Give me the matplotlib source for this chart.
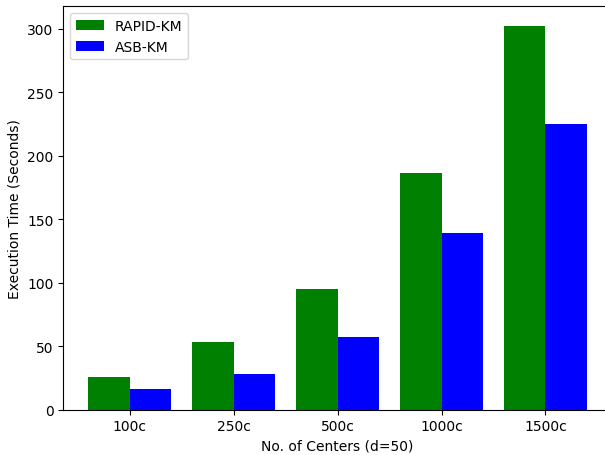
import matplotlib
matplotlib.use("Agg")
import matplotlib.pyplot as plt
import numpy as np

centers = ["100c", "250c", "500c", "1000c", "1500c"]
rapid_km = [26.0, 53.7, 94.7, 186.3, 302.6]
asb_km = [16.6, 28.4, 57.6, 138.9, 225.3]

fig = plt.figure(figsize=(6.05, 4.56), dpi=100)
ax = fig.add_axes([63.3 / 605, 1 - 410.7 / 456, (612 - 63.3) / 605, (410.7 - 7.3) / 456])

x = np.arange(len(centers))
width = 0.4
ax.bar(x - width / 2, rapid_km, width, color="green", label="RAPID-KM")
ax.bar(x + width / 2, asb_km, width, color="blue", label="ASB-KM")

ax.set_xticks(x)
ax.set_xticklabels(centers)
ax.set_xlabel("No. of Centers (d=50)")
ax.set_ylabel("Execution Time (Seconds)")
ax.legend(loc="upper left")

fig.savefig("out.png", dpi=100)
